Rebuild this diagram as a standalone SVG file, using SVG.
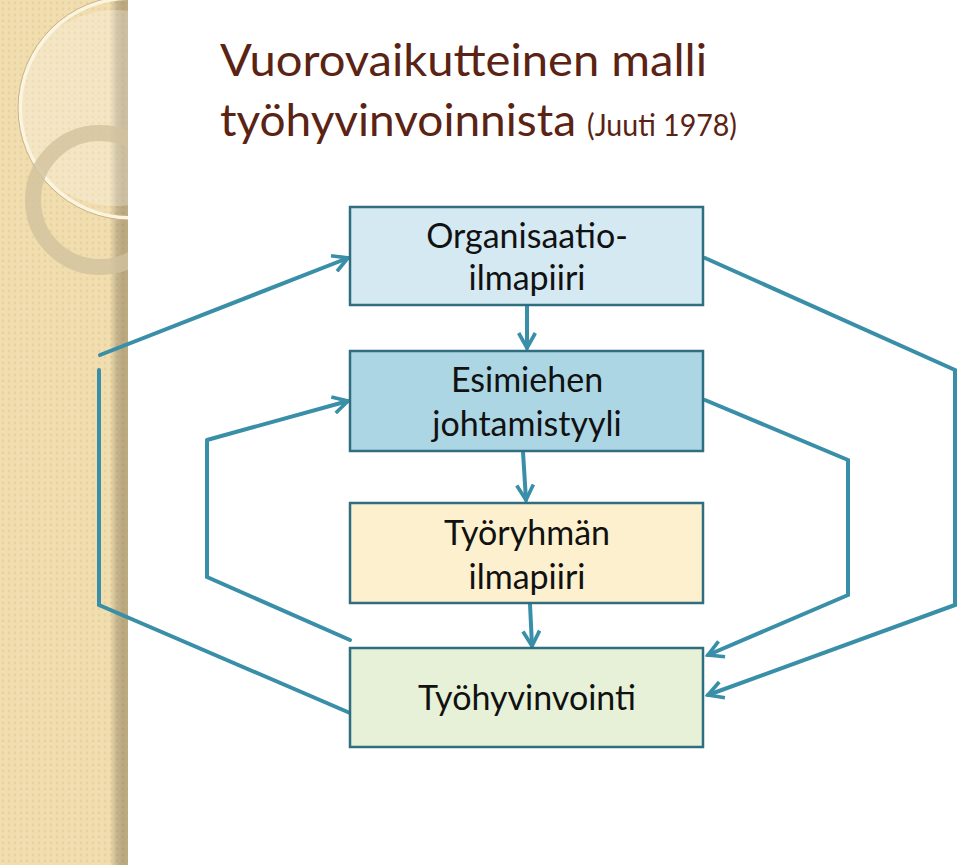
<svg xmlns="http://www.w3.org/2000/svg" width="960" height="865" viewBox="0 0 960 865">
<defs>
<pattern id="dots" width="6" height="6" patternUnits="userSpaceOnUse"><rect width="6" height="6" fill="#f1deb0"/><circle cx="3" cy="3" r="1.4" fill="#e9d29d"/></pattern>
<linearGradient id="edge" x1="0" x2="1"><stop offset="0" stop-color="#000" stop-opacity="0"/><stop offset="1" stop-color="#a08a60" stop-opacity="0.6"/></linearGradient>
<marker id="ah" viewBox="0 0 12 12" refX="10" refY="6" markerWidth="5" markerHeight="5" orient="auto" markerUnits="strokeWidth"><path d="M1,1 L10,6 L1,11" fill="none" stroke="#3a8fa8" stroke-width="2.2"/></marker>
<clipPath id="strip"><rect width="128" height="865"/></clipPath>
</defs>
<style>
.c{fill:none;stroke:#3a8fa8;stroke-width:4;stroke-linecap:round}
.box{stroke:#2e6e80;stroke-width:2.5}
.t{font-family:Lato,"Open Sans",sans-serif;font-size:34px;fill:#111;text-anchor:middle}
.title{font-family:Lato,"Open Sans",sans-serif;fill:#5a2314}
</style>
<rect width="960" height="865" fill="#fff"/>
<g id="strip-bg">
<rect width="128" height="865" fill="url(#dots)"/>
<rect x="110" width="18" height="865" fill="url(#edge)"/>
<g clip-path="url(#strip)">
<circle cx="115" cy="108" r="98" fill="#fff" fill-opacity="0.25"/>
<circle cx="130" cy="108" r="110" fill="none" stroke="#fbf4e1" stroke-width="4"/>
<circle cx="130" cy="108" r="112" fill="none" stroke="#c8b27e" stroke-width="1"/>
<circle cx="100" cy="200" r="67" fill="none" stroke="#d2c29e" stroke-width="16" stroke-opacity="0.8"/>
</g>
</g>
<g id="title">
<text class="title" x="220" y="76" font-size="44" textLength="487" lengthAdjust="spacingAndGlyphs">Vuorovaikutteinen malli</text>
<text class="title" x="220" y="136" font-size="44" textLength="356" lengthAdjust="spacingAndGlyphs">työhyvinvoinnista</text>
<text class="title" x="587" y="136" font-size="30" textLength="150" lengthAdjust="spacingAndGlyphs">(Juuti 1978)</text>
</g>
<g id="connectors">
<path class="c" d="M527,306 V348" marker-end="url(#ah)"/>
<path class="c" d="M523,452 L526,500" marker-end="url(#ah)"/>
<path class="c" d="M530,604 L532,646" marker-end="url(#ah)"/>
<path class="c" d="M100,355 L348,258" marker-end="url(#ah)"/>
<path class="c" d="M99,370 V605 L350,713"/>
<path class="c" d="M207,440 L348,401" marker-end="url(#ah)"/>
<path class="c" d="M207,442 V577 L350,640"/>
<path class="c" d="M705,258 L955,370 V605 L708,695" marker-end="url(#ah)"/>
<path class="c" d="M705,400 L848,460 V595 L708,655" marker-end="url(#ah)"/>
</g>
<g id="n-org"><rect class="box" x="350" y="207" width="353" height="98" fill="#d5e9f2"/>
<text class="t" x="527" y="248">Organisaatio-</text><text class="t" x="527" y="290">ilmapiiri</text></g>
<g id="n-esim"><rect class="box" x="350" y="351" width="353" height="100" fill="#acd6e4"/>
<text class="t" x="527" y="392">Esimiehen</text><text class="t" x="527" y="436">johtamistyyli</text></g>
<g id="n-tyor"><rect class="box" x="350" y="503" width="353" height="100" fill="#fdf0cf"/>
<text class="t" x="527" y="545">Työryhmän</text><text class="t" x="527" y="589">ilmapiiri</text></g>
<g id="n-hyv"><rect class="box" x="350" y="648" width="353" height="99" fill="#e6f1d7"/>
<text class="t" x="527" y="710">Työhyvinvointi</text></g>
</svg>
